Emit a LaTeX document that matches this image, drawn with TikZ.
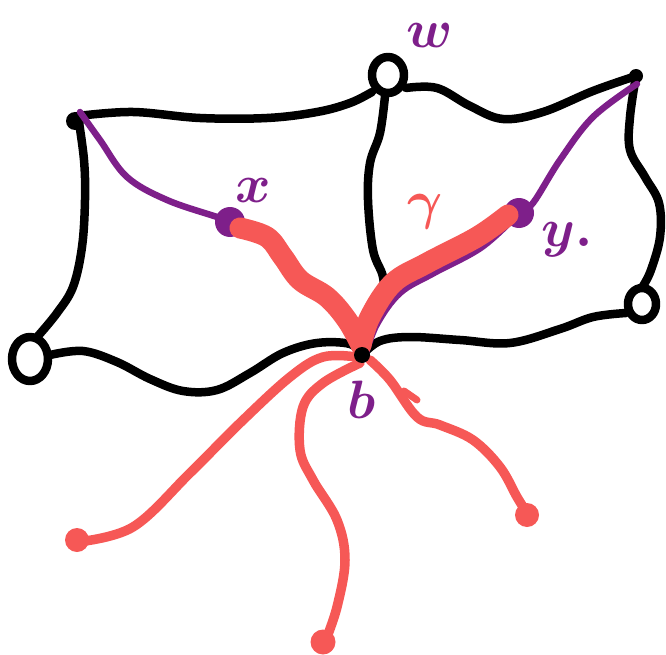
\RequirePackage{fix-cm}
\documentclass[tikz,border=0pt]{standalone}
\usepackage{amsmath}
\definecolor{pathpurple}{RGB}{126,31,138}
\definecolor{loopred}{RGB}{246,88,86}
\begin{document}
\begin{tikzpicture}[x=1pt, y=-1pt,
  frame/.style={line width=8.5pt, black, line cap=round, line join=round},
  arc/.style={line width=6.5pt, pathpurple, line cap=round},
  thread/.style={line width=9.5pt, loopred, line cap=round},
  gammaline/.style={line width=21pt, loopred, line cap=round},
  lbl/.style={font=\fontsize{54}{54}\selectfont\boldmath, inner sep=0pt}]
\useasboundingbox (0,0) rectangle (666,655);
% base point and marked points
\coordinate (b) at (362,355);
\coordinate (x) at (230,222);
\coordinate (y) at (519,213);
\coordinate (tl) at (78,116);
\coordinate (tr) at (636,76);
% outer frame
\draw[frame] plot[smooth, tension=0.6] coordinates {(tl) (133,112) (200,118) (267,118) (317,112) (350,103) (372,92)};
\draw[frame] plot[smooth, tension=0.6] coordinates {(tl) (84,160) (85,200) (82,247) (73,287) (57,313) (38,336)};
\draw[frame] plot[smooth, tension=0.6] coordinates {(50,355) (83,351) (117,362) (150,379) (183,391) (217,390) (250,373) (283,353) (317,343) (350,344) (b)};
\draw[frame] plot[smooth, tension=0.6] coordinates {(385,96) (380,133) (370,163) (368,200) (373,250) (383,277) (382,300) (370,327) (b)};
\draw[frame] plot[smooth, tension=0.6] coordinates {(406,88) (437,88) (470,106) (503,119) (543,112) (593,91) (tr)};
\draw[frame] plot[smooth, tension=0.6] coordinates {(tr) (630,117) (630,150) (645,177) (659,203) (660,237) (651,270) (643,286)};
\draw[frame] plot[smooth, tension=0.6] coordinates {(626,313) (593,317) (560,329) (510,343) (460,340) (410,337) (380,341) (b)};
\draw[frame] (30,359) ellipse [x radius=18pt, y radius=22pt];
\draw[frame] (388,75) ellipse [x radius=16pt, y radius=18pt];
\draw[frame] (642,304) ellipse [x radius=14pt, y radius=16pt];
\fill (75,121) circle (9pt);
\fill (tr) circle (7pt);
% purple arcs
\draw[arc] plot[smooth, tension=0.6] coordinates {(80,112) (100,140) (127,177) (167,200) (217,217) (x)};
\draw[arc] plot[smooth, tension=0.6] coordinates {(y) (533,203) (560,160) (593,117) (637,84)};
\draw[arc] plot[smooth, tension=0.6] coordinates {(x) (270,246) (288,268) (305,290) (333,306) (353,332) (363,353)};
\draw[arc] plot[smooth, tension=0.6] coordinates {(366,353) (377,324) (400,293) (434,273) (482,247) (y)};
\fill[pathpurple] (x) circle (15pt);
\fill[pathpurple] (y) circle (15pt);
% gamma
\draw[gammaline] plot[smooth, tension=0.6] coordinates {(240,228) (267,237) (283,257) (300,280) (327,297) (347,320) (361,345)};
\draw[gammaline] plot[smooth, tension=0.6] coordinates {(361,345) (370,317) (393,283) (427,263) (477,237) (508,215)};
% loose threads
\draw[thread] plot[smooth, tension=0.6] coordinates {(357,357) (323,357) (290,377) (240,423) (190,473) (133,527) (77,542)};
\draw[thread] plot[smooth, tension=0.6] coordinates {(360,363) (323,383) (303,407) (300,450) (313,480) (337,520) (345,560) (337,607) (325,642)};
\draw[thread] plot[smooth, tension=0.6] coordinates {(370,360) (390,380) (417,417) (440,425) (473,440) (500,467) (517,497) (527,513)};
\draw[thread, line width=7pt] (404,391) -- (417,400);
\fill[loopred] (77,540) circle (12pt);
\fill[loopred] (323,642) circle (12.5pt);
\fill[loopred] (527,515) circle (12pt);
\fill (b) circle (8pt);
% labels
\node[lbl, pathpurple] (xl) at (253,190) {$x$};
\node[lbl, pathpurple] (wl) at (430,36) {$w$};
\node[lbl, loopred] (gl) at (425,212) {$\gamma$};
\node[lbl, pathpurple] (yl) at (567,240) {$y.$};
\node[lbl, pathpurple] (bl) at (362,400) {$b$};
\end{tikzpicture}
\end{document}
